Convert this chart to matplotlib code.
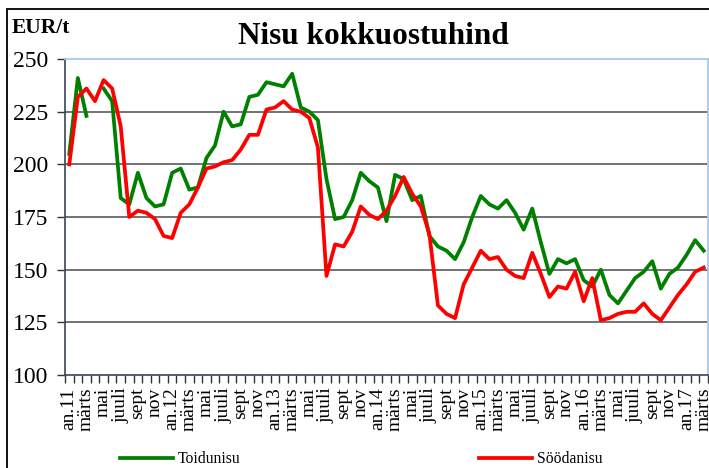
import numpy as np
import matplotlib.pyplot as plt
from matplotlib.patches import Rectangle

# monthly prices, jan 2011 .. march 2017 (EUR/t)
toidunisu = [205, 241, 223, np.nan, 236, 230, 184, 181, 196, 184, 180, 181,
             196, 198, 188, 189, 203, 209, 225, 218, 219, 232, 233, 239,
             238, 237, 243, 227, 225, 221, 193, 174, 175, 183, 196, 192,
             189, 173, 195, 193, 183, 185, 166, 161, 159, 155, 163, 175,
             185, 181, 179, 183, 177, 169, 179, 163, 148, 155, 153, 155,
             145, 142, 150, 138, 134, 140, 146, 149, 154, 141, 148, 151,
             157, 164, 159]
soodanisu = [200, 232, 236, 230, 240, 236, 218, 175, 178, 177, 174, 166,
             165, 177, 181, 189, 198, 199, 201, 202, 207, 214, 214, 226,
             227, 230, 226, 225, 222, 208, 147, 162, 161, 168, 180, 176,
             174, 178, 185, 194, 186, 180, 167, 133, 129, 127, 143, 151,
             159, 155, 156, 150, 147, 146, 158, 148, 137, 142, 141, 149,
             135, 146, 126, 127, 129, 130, 130, 134, 129, 126, 132, 138,
             143, 149, 151]

month_names = ["an", "veebr", "märts", "apr", "mai", "juuni",
               "juuli", "aug", "sept", "okt", "nov", "dets"]
labels = []
for i in range(len(toidunisu)):
    m = i % 12
    if m == 0:
        labels.append("an.%d" % (11 + i // 12))
    else:
        labels.append(month_names[m])

plt.rcParams['font.family'] = ['Liberation Serif', 'DejaVu Serif']

fig = plt.figure(figsize=(7.09, 4.68), dpi=100)
ax = fig.add_axes([65 / 709, 1 - 375 / 468, 643 / 709, 316 / 468])

x = np.arange(len(toidunisu))
ax.plot(x, toidunisu, color="#008000", lw=2.7, label="Toidunisu")
ax.plot(x, soodanisu, color="#ff0000", lw=2.7, label="Söödanisu")

ax.set_xlim(-0.5, len(x) - 0.5)
ax.set_ylim(100, 250)
ax.set_yticks(range(100, 251, 25))
for v in range(125, 250, 25):
    ax.axhline(v, color="#5a5a5a", lw=1.2, zorder=0)

ax.set_xticks(x[::2])
ax.set_xticklabels(labels[::2], rotation=90, fontsize=14)
ax.set_xticks(np.arange(-0.5, len(x), 1), minor=True)
ax.tick_params(axis="x", which="major", length=0, pad=9)
ax.tick_params(axis="x", which="minor", length=6, width=1, color="#333333")
ax.tick_params(axis="y", length=6, width=1, color="#333333", labelsize=17, pad=6)

for s in ["top", "right"]:
    ax.spines[s].set_color("#a8c8e8")
    ax.spines[s].set_linewidth(1.3)
ax.spines["left"].set_color("#3a4455")
ax.spines["bottom"].set_color("#3a4455")
ax.spines["left"].set_linewidth(1.2)
ax.spines["bottom"].set_linewidth(1.2)

fig.text(373 / 709, 1 - 37 / 468, "Nisu kokkuostuhind", fontsize=22.5,
         fontweight="bold", ha="center", va="center")
fig.text(12 / 709, 1 - 28 / 468, "EUR/t", fontsize=15.5, fontweight="bold",
         ha="left", va="center")

fig.legend(loc="center", bbox_to_anchor=(361 / 709, 1 - 459 / 468), ncol=2,
           frameon=False, fontsize=11.3, handlelength=3.4, handletextpad=0.3,
           columnspacing=15.2)

fig.patches.append(Rectangle((7 / 709, -0.1), 1.2, 1 - 9 / 468 + 0.1,
                             transform=fig.transFigure, fill=False,
                             edgecolor="black", lw=1.3))

fig.savefig("out.png", dpi=100)
